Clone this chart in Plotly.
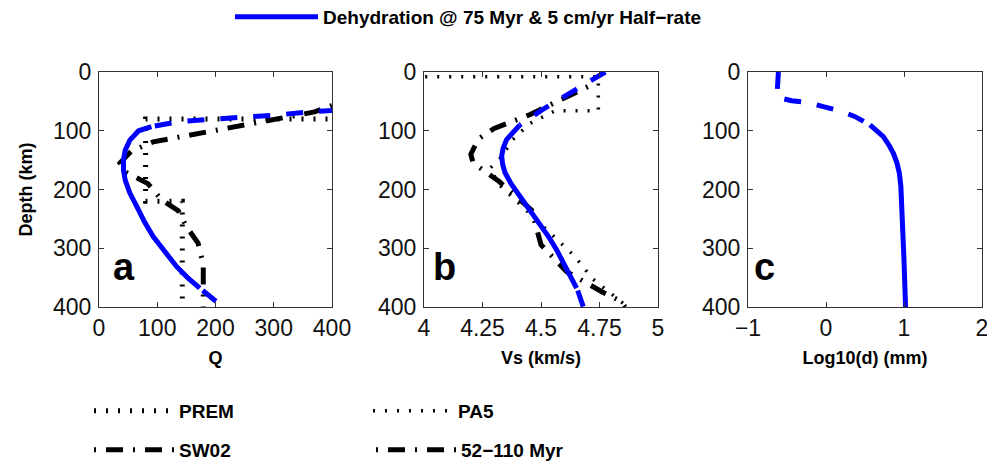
import plotly.graph_objects as go

# ---------------- data ----------------
# Panel a: Q vs depth
prem_q = [600, 600, 80, 80, 143, 143]
prem_depth = [0, 80, 80, 220, 220, 400]
sw02_q = [600, 400, 370, 295, 228, 161, 93, 55, 36, 45, 84, 108, 136, 150, 170, 179, 179]
sw02_depth = [40, 57, 68, 82, 93, 107, 119, 135, 155, 170, 190, 218, 236, 263, 291, 328, 400]
blue_q_top = [520, 420, 366, 307, 250, 193, 137, 90]
blue_q_top_depth = [58, 63, 67.6, 73, 76, 80.5, 84.6, 93]
blue_q_mid = [90, 68, 53, 45, 42, 42, 45, 53, 65, 78, 93, 112, 133, 152, 173]
blue_q_mid_depth = [93, 100, 116, 133, 150, 167, 184, 206, 229, 255, 280, 305, 331, 350, 368]
blue_q_deep = [178, 213]
blue_q_deep_depth = [372, 400]

# Panel b: Vs vs depth
pa5_vs = [3.8, 4.745, 4.745, 4.56, 4.45, 4.38, 4.33, 4.28, 4.33, 4.54, 4.645, 4.72, 4.87]
pa5_depth = [8, 8, 66, 66, 88, 115, 145, 165, 195, 274, 314, 352, 400]
myr_vs = [4.70, 4.62, 4.45, 4.30, 4.232, 4.20, 4.21, 4.32, 4.46, 4.50, 4.61, 4.76, 4.84, 4.86]
myr_depth = [25, 41, 73, 96, 114, 140, 155, 186, 235, 294, 340, 374, 390, 400]
blue_vs_top = [4.775, 4.70, 4.624, 4.565, 4.51, 4.46, 4.41]
blue_vs_top_depth = [0, 17, 35, 50, 63, 77, 90]
blue_vs_mid = [4.41, 4.385, 4.353, 4.338, 4.332, 4.336, 4.346, 4.372, 4.41, 4.452,
               4.496, 4.532, 4.567, 4.595, 4.624, 4.652]
blue_vs_mid_depth = [90, 100, 115, 130, 143, 157, 171, 190, 211, 235, 257, 280, 303,
                     325, 348, 368]
blue_vs_deep = [4.657, 4.681]
blue_vs_deep_depth = [372, 400]

# Panel c: log10 grain size vs depth
blue_d_top = [-0.61, -0.62, -0.63, -0.44, -0.227, -0.035, 0.18, 0.372, 0.564]
blue_d_top_depth = [0, 20, 43, 49, 52, 59, 66, 76, 90]
blue_d_mid = [0.564, 0.66, 0.735, 0.81, 0.863, 0.91, 0.94, 0.96, 0.97, 0.98, 0.99,
              1.0, 1.01, 1.02]
blue_d_mid_depth = [90, 100, 110, 125, 138, 155, 172, 195, 218, 245, 275, 320, 360, 400]

depth_ticks = [0, 100, 200, 300, 400]
q_ticks = [0, 100, 200, 300, 400]
vs_ticks = [4, 4.25, 4.5, 4.75, 5]
vs_ticktext = ["4", "4.25", "4.5", "4.75", "5"]
logd_ticks = [-1, 0, 1, 2]
logd_ticktext = ["\u22121", "0", "1", "2"]

BLUE = "#0000ff"
BLACK = "#000000"
DOT_PREM = "2px,10px"
DOT_PA5 = "2px,10px"
DASHDOT = "2px,10px,17px,10px"
DASH = "17px,16px"
LW = 5

fig = go.Figure()


def add(x, y, xa, ya, color, width, dash, name=None, legend=None, show=False):
    fig.add_trace(go.Scatter(
        x=x, y=y, xaxis=xa, yaxis=ya, mode="lines",
        line=dict(color=color, width=width, dash=dash),
        name=name, showlegend=show, legend=legend, hoverinfo="skip"))


# panel a
add(prem_q, prem_depth, "x", "y", BLACK, 5, DOT_PREM, "PREM", "legend2", True)
add(sw02_q, sw02_depth, "x", "y", BLACK, LW, DASHDOT, "SW02", "legend3", True)
add(blue_q_top, blue_q_top_depth, "x", "y", BLUE, LW, DASH)
add(blue_q_mid, blue_q_mid_depth, "x", "y", BLUE, LW, "solid",
    "Dehydration @ 75 Myr & 5 cm/yr Half\u2212rate", "legend", True)
add(blue_q_deep, blue_q_deep_depth, "x", "y", BLUE, LW, DASH)
# panel b
add(pa5_vs, pa5_depth, "x2", "y2", BLACK, 3.5, DOT_PA5, "PA5", "legend2", True)
add(myr_vs, myr_depth, "x2", "y2", BLACK, LW, DASHDOT, "52\u2212110 Myr", "legend3", True)
add(blue_vs_top, blue_vs_top_depth, "x2", "y2", BLUE, LW, DASH)
add(blue_vs_mid, blue_vs_mid_depth, "x2", "y2", BLUE, LW, "solid")
add(blue_vs_deep, blue_vs_deep_depth, "x2", "y2", BLUE, LW, DASH)
# panel c
add(blue_d_top, blue_d_top_depth, "x3", "y3", BLUE, LW, DASH)
add(blue_d_mid, blue_d_mid_depth, "x3", "y3", BLUE, LW, "solid")

# The page body has an 8px margin, so the figure is sized to fit the window.
OFF = 8
W, H = 995 - OFF, 464 - OFF


def fx(sx):
    return (sx - OFF) / W


def fy(sy):
    return 1 - (sy - OFF) / H


FONT = "Liberation Sans, Arial, sans-serif"
TICKFONT = dict(family=FONT, size=23, color="#111111")

ydom = [fy(307), fy(72)]
xdoms = [[fx(99), fx(332)], [fx(424), fx(658)], [fx(748), fx(982)]]

axis_common = dict(showline=True, linecolor="#333333", linewidth=1, mirror="ticks",
                   ticks="inside", ticklen=5, tickcolor="#333333", showgrid=False,
                   zeroline=False, tickfont=TICKFONT, fixedrange=True, automargin=False)

xtitles = ["Q", "Vs (km/s)", "Log10(d) (mm)"]
xranges = [[0, 400], [4, 5], [-1, 2]]
xtickvals = [q_ticks, vs_ticks, logd_ticks]
xticktexts = [[str(v) for v in q_ticks], vs_ticktext, logd_ticktext]
letters = ["a", "b", "c"]
letter_x = [0.052, 0.03, 0.016]

layout = dict(width=W, height=H, autosize=False,
              margin=dict(l=0, r=0, t=0, b=0, pad=0, autoexpand=False),
              paper_bgcolor="white", plot_bgcolor="white",
              font=dict(family=FONT, color="black"))

for i in range(3):
    sx = "" if i == 0 else str(i + 1)
    layout["xaxis" + sx] = dict(axis_common, domain=xdoms[i], range=xranges[i],
                                tickvals=xtickvals[i], ticktext=xticktexts[i],
                                anchor="y" + sx,
                                title=dict(text=xtitles[i], standoff=11,
                                           font=dict(family=FONT, size=18, weight="bold")))
    layout["yaxis" + sx] = dict(axis_common, domain=ydom, range=[400, 0],
                                tickvals=depth_ticks, anchor="x" + sx,
                                ticklabelstandoff=2)

layout["yaxis"]["title"] = dict(text="Depth (km)", standoff=15,
                                font=dict(family=FONT, size=18, weight="bold"))

annotations = []
for i in range(3):
    sx = "" if i == 0 else str(i + 1)
    annotations.append(dict(text=letters[i], xref="x" + sx + " domain",
                            yref="y" + sx + " domain", x=letter_x[i], y=0.17,
                            xanchor="left", yanchor="middle", showarrow=False,
                            font=dict(family=FONT, size=38, weight="bold", color="black")))
layout["annotations"] = annotations

legfont = dict(family=FONT, size=19, weight="bold", color="black")
layout["legend"] = dict(x=fx(230), y=fy(-2), xanchor="left", yanchor="top",
                        orientation="h", itemwidth=83, font=legfont,
                        bgcolor="rgba(0,0,0,0)", borderwidth=0)
layout["legend2"] = dict(x=fx(89), y=fy(392), xanchor="left", yanchor="top",
                         orientation="h", itemwidth=80, font=legfont,
                         entrywidth=184, entrywidthmode="pixels",
                         bgcolor="rgba(0,0,0,0)", borderwidth=0)
layout["legend3"] = dict(x=fx(89), y=fy(431), xanchor="left", yanchor="top",
                         orientation="h", itemwidth=80, font=legfont,
                         entrywidth=187, entrywidthmode="pixels",
                         bgcolor="rgba(0,0,0,0)", borderwidth=0)

fig.update_layout(**layout)
fig.write_html("out.html")
